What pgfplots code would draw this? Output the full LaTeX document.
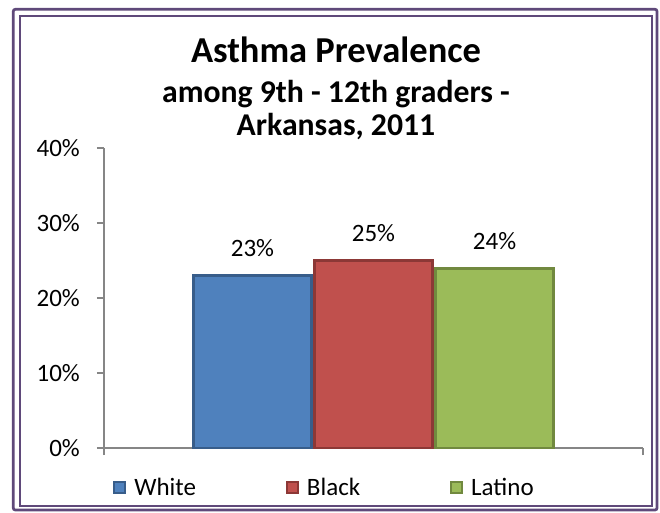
\documentclass[border=0pt]{standalone}
\usepackage{pgfplots}
\pgfplotsset{compat=1.18}
\usepackage{fontspec}
\setmainfont{Carlito}

\definecolor{axgray}{HTML}{868686}
\definecolor{framecol}{HTML}{5F497A}
\definecolor{cWhite}{HTML}{4F81BD}
\definecolor{bWhite}{HTML}{385D8A}
\definecolor{cBlack}{HTML}{C0504D}
\definecolor{bBlack}{HTML}{8C3836}
\definecolor{cLatino}{HTML}{9BBB59}
\definecolor{bLatino}{HTML}{71893F}

\pgfplotsset{
  swatch/.style={legend image code/.code={%
    \draw[##1, line width=2pt] (0pt,-5pt) rectangle (11pt,6pt);}},
}

\begin{document}
\begin{tikzpicture}
\begin{axis}[
  width=539pt, height=300pt, scale only axis,
  ybar=3pt, bar width=118pt,
  xmin=0, xmax=1, ymin=0, ymax=40,
  xtick={0,1}, xticklabels={},
  ytick={0,10,20,30,40},
  axis x line*=bottom, axis y line*=left,
  tick align=outside, major tick length=7pt,
  axis line style={axgray, line width=1.3pt},
  tick style={axgray, line width=1.3pt},
  yticklabel={\pgfmathprintnumber{\tick}\%},
  /pgf/number format/assume math mode=true,
  ticklabel style={font=\fontsize{25}{30}\selectfont},
  yticklabel style={inner sep=0pt, xshift=-17pt},
  nodes near coords={\pgfmathprintnumber{\pgfplotspointmeta}\%},
  nodes near coords style={font=\fontsize{25}{30}\selectfont, inner sep=0pt, yshift=17pt, black},
  legend columns=3,
  legend style={at={(axis description cs:0.5,0)}, anchor=center, xshift=-49pt, yshift=-40pt,
    draw=none, fill=none, font=\fontsize{25}{30}\selectfont,
    /tikz/every odd column/.append style={column sep=6pt},
    /tikz/every even column/.append style={column sep=88pt}},
]
\addplot[fill=cWhite, draw=bWhite, line width=3pt, swatch] coordinates {(0.5,23)};
\addplot[fill=cBlack, draw=bBlack, line width=3pt, swatch] coordinates {(0.5,25)};
\addplot[fill=cLatino, draw=bLatino, line width=3pt, swatch] coordinates {(0.5,24)};
\legend{White, Black, Latino}
\coordinate (O) at (rel axis cs:0,0);
\end{axis}
\pgfresetboundingbox
\begin{scope}[shift={(O)}, xshift=-104pt, yshift=-64pt, x=1pt, y=1pt]
\path[use as bounding box] (0,0) rectangle (660,512);
% double frame around the chart area
\draw[framecol, line width=2.7pt, rounded corners=2pt] (13.3,2) rectangle (657,502.7);
\draw[framecol, line width=2pt] (19.7,6) rectangle (651.7,496.3);
% titles
\node[anchor=base, font=\bfseries\fontsize{36.5}{42}\selectfont] at (336,449.3) {Asthma Prevalence};
\node[anchor=base, font=\bfseries\fontsize{31.7}{36}\selectfont] at (336,409.3) {among 9th - 12th graders -};
\node[anchor=base, font=\bfseries\fontsize{31.7}{36}\selectfont] at (336,376) {Arkansas, 2011};
\end{scope}
\end{tikzpicture}
\end{document}
